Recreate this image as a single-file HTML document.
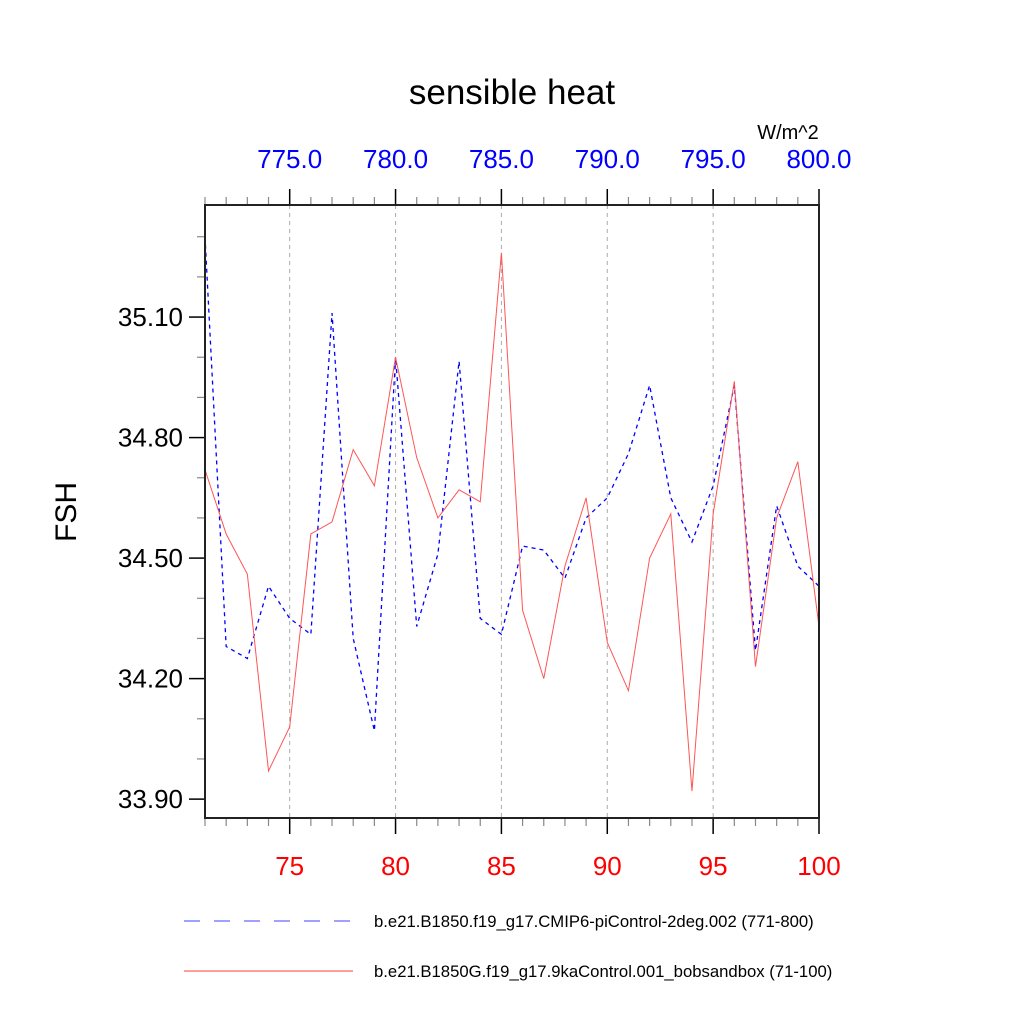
<!DOCTYPE html>
<html><head><meta charset="utf-8"><style>
body{margin:0;background:#fff}
svg{display:block;font-family:"Liberation Sans",sans-serif}
</style></head><body>
<svg id="chart" width="1024" height="1024" viewBox="0 0 1024 1024" xmlns="http://www.w3.org/2000/svg">
<rect width="1024" height="1024" fill="#fff"/>
<text x="512" y="104" font-size="35" text-anchor="middle">sensible heat</text>
<text x="788" y="139" font-size="20" text-anchor="middle">W/m^2</text>
<text transform="translate(76,512) rotate(-90)" font-size="30" text-anchor="middle">FSH</text>
<g id="grid"></g>
<g id="ticks"></g>
<g id="series"></g>
<rect x="205" y="205" width="614" height="613" fill="none" stroke="#222" stroke-width="2"/>
<g>
<line x1="184" y1="921" x2="353" y2="921" stroke="#8080ff" stroke-width="1.5" stroke-dasharray="16,14"/>
<text x="374" y="927" font-size="16.7">b.e21.B1850.f19_g17.CMIP6-piControl-2deg.002 (771-800)</text>
<line x1="184" y1="971" x2="353" y2="971" stroke="#ff6060" stroke-width="1.2"/>
<text x="374" y="977" font-size="16.7">b.e21.B1850G.f19_g17.9kaControl.001_bobsandbox (71-100)</text>
</g>
</svg>
<script>
const years = [71,72,73,74,75,76,77,78,79,80,81,82,83,84,85,86,87,88,89,90,91,92,93,94,95,96,97,98,99,100];
const redValues = [34.72,34.56,34.46,33.97,34.08,34.56,34.59,34.77,34.68,35.00,34.75,34.60,34.67,34.64,35.26,34.37,34.20,34.48,34.65,34.29,34.17,34.50,34.61,33.92,34.61,34.94,34.23,34.60,34.74,34.33];
const blueValues = [35.30,34.28,34.25,34.43,34.35,34.31,35.11,34.30,34.07,35.00,34.33,34.51,34.99,34.35,34.31,34.53,34.52,34.45,34.60,34.65,34.76,34.93,34.65,34.54,34.68,34.93,34.27,34.63,34.48,34.43];
const bottomTicks = [75,80,85,90,95,100];
const topTicks = [775,780,785,790,795,800];
const yTicks = [33.90,34.20,34.50,34.80,35.10];
const NS='http://www.w3.org/2000/svg';
const X0=205,X1=819,Y0=205,Y1=818;
const xMin=71,xMax=100,yMin=33.853,yMax=35.379;
const xs=v=>X0+(v-xMin)/(xMax-xMin)*(X1-X0);
const ys=v=>Y1-(v-yMin)/(yMax-yMin)*(Y1-Y0);
function mk(tag,attrs,parent){const e=document.createElementNS(NS,tag);for(const k in attrs)e.setAttribute(k,attrs[k]);parent.appendChild(e);return e;}
const grid=document.getElementById('grid'),ticks=document.getElementById('ticks'),series=document.getElementById('series');
for(let v=xMin;v<=xMax;v++){
  const x=xs(v),major=bottomTicks.includes(v);
  const t=mk('line',{x1:x,y1:Y1,x2:x,y2:Y1+(major?16:8),stroke:major?'#000':'#888','stroke-width':major?1.5:1.2},ticks);
  
  
  const t2=mk('line',{x1:x,y1:Y0,x2:x,y2:Y0-(major?16:8),stroke:major?'#000':'#888','stroke-width':major?1.5:1.2},ticks);
  
  
}
bottomTicks.forEach(v=>{
  const x=xs(v);
  if(v<xMax){const g=mk('line',{x1:x,y1:Y0,x2:x,y2:Y1,stroke:'#aaa','stroke-width':1,'stroke-dasharray':'4,4'},grid);
  
  }
  const t=mk('text',{x:x,y:875,'font-size':26,fill:'#f00','text-anchor':'middle'},ticks);t.textContent=String(v);
  
  
});
topTicks.forEach((v,i)=>{
  const t=mk('text',{x:xs(bottomTicks[i]),y:168,'font-size':26,fill:'#00f','text-anchor':'middle'},ticks);t.textContent=v.toFixed(1);
  
  
});
for(let k=0;;k++){
  const v=33.90+k*0.1-0.1; if(v>yMax)break; if(v<yMin)continue;
  const major=Math.abs(((v-33.90)/0.3)-Math.round((v-33.90)/0.3))<0.01;
  const y=ys(v);
  const t=mk('line',{x1:X0,y1:y,x2:X0-(major?16:8),y2:y,stroke:major?'#000':'#888','stroke-width':major?1.5:1.2},ticks);
  
  
}
yTicks.forEach(v=>{
  const t=mk('text',{x:183,y:ys(v)+9,'font-size':26,'text-anchor':'end'},ticks);t.textContent=v.toFixed(2);
  
  
});
const blue=mk('polyline',{points:years.map((y,i)=>xs(y)+','+ys(blueValues[i])).join(' '),fill:'none',stroke:'#0000ff','stroke-width':1.3,'stroke-dasharray':'4,4'},series);


const red=mk('polyline',{points:years.map((y,i)=>xs(y)+','+ys(redValues[i])).join(' '),fill:'none',stroke:'#ff5555','stroke-width':1},series);


</script>
</body></html>
